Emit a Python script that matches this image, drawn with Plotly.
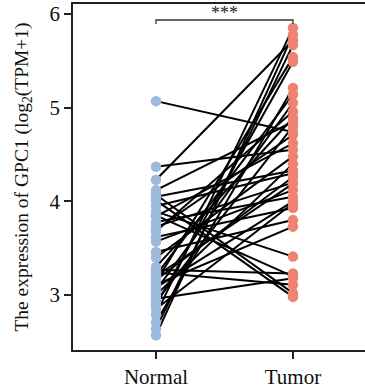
import plotly.graph_objects as go

groups = ["Normal", "Tumor"]
normal_vals = [5.07, 4.37, 4.23, 4.12, 4.07, 4.01, 3.95, 3.89, 3.84, 3.78, 3.73, 3.68, 3.62,
               3.57, 3.46, 3.40, 3.27, 3.24, 3.21, 3.16, 3.11, 3.05, 3.00, 2.96, 2.89, 2.79,
               2.71, 2.64, 2.57, 3.30, 3.14, 3.08, 2.93, 3.70, 3.85, 4.05, 3.20, 2.85]
tumor_vals = [4.74, 4.55, 5.72, 4.85, 3.02, 2.98, 4.30, 3.41, 4.62, 4.05, 4.20, 4.96, 3.93,
              4.12, 3.80, 4.48, 3.23, 3.11, 5.14, 4.26, 3.73, 5.05, 4.40, 3.18, 5.49, 5.85,
              5.21, 5.67, 5.78, 4.89, 5.54, 4.00, 4.80, 4.71, 3.20, 4.33, 4.19, 3.98]
y_ticks = [3, 4, 5, 6]
sig_label = "***"

FONT = "Liberation Serif"

lx, ly = [], []
for a, b in zip(normal_vals, tumor_vals):
    lx += [0, 1, None]
    ly += [a, b, None]

fig = go.Figure()
fig.add_trace(go.Scatter(x=lx, y=ly, mode="lines",
                         line=dict(color="black", width=2), hoverinfo="skip",
                         showlegend=False))
fig.add_trace(go.Scatter(x=[0] * len(normal_vals), y=normal_vals, mode="markers",
                         marker=dict(color="#9DB9DD", size=10.5), showlegend=False))
fig.add_trace(go.Scatter(x=[1] * len(tumor_vals), y=tumor_vals, mode="markers",
                         marker=dict(color="#EF8373", size=10.5), showlegend=False))

# significance bracket
fig.add_trace(go.Scatter(x=[0, 0, 1, 1], y=[5.893, 5.936, 5.936, 5.893], mode="lines",
                         line=dict(color="#333333", width=1.3), hoverinfo="skip",
                         showlegend=False))
fig.add_annotation(x=0.5, y=5.93, text=sig_label, showarrow=False, yanchor="bottom",
                   font=dict(family=FONT, size=18, color="#222"), yshift=-4)

fig.update_layout(
    width=365, height=389,
    margin=dict(l=73, r=0, t=4, b=39),
    paper_bgcolor="white", plot_bgcolor="white",
    font=dict(family=FONT, color="#111"),
)
fig.update_xaxes(range=[-0.606, 1.526], tickvals=[0, 1], ticktext=groups,
                 showline=True, linecolor="#222", linewidth=1.5, mirror=True,
                 ticks="outside", ticklen=7, tickwidth=1.5, tickcolor="#222",
                 showgrid=False, zeroline=False, tickfont=dict(size=21, family=FONT))
fig.update_yaxes(range=[2.413, 6.107], tickvals=y_ticks,
                 showline=True, linecolor="#222", linewidth=1.5,
                 ticks="outside", ticklen=7, tickwidth=1.5, tickcolor="#222",
                 showgrid=False, zeroline=False, tickfont=dict(size=21, family=FONT),
                 title=dict(text="The expression of GPC1 (log<sub>2</sub>(TPM+1)",
                            font=dict(size=19.5, family=FONT), standoff=16))

fig.write_html("out.html")
